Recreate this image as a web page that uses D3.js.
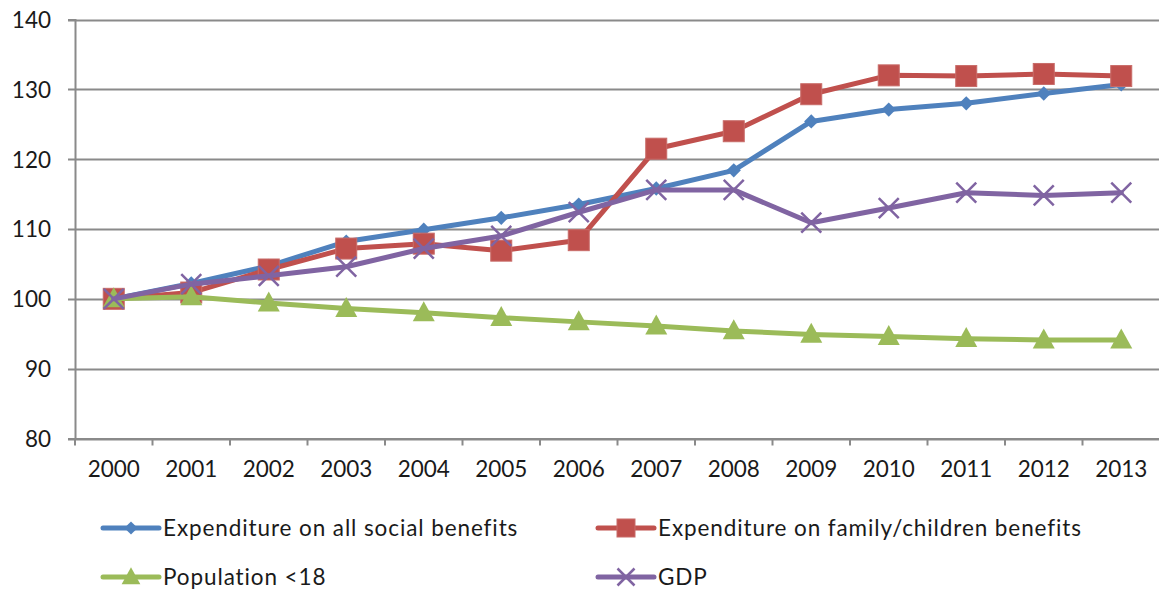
<!DOCTYPE html>
<html>
<head>
<meta charset="utf-8">
<script src="https://cdn.jsdelivr.net/npm/d3@7"></script>
<style>
  html, body { margin: 0; padding: 0; background: #fff; }
  svg { display: block; }
  text { font-family: Lato, "Open Sans", sans-serif; fill: #1a1a1a; }
</style>
</head>
<body>
<svg id="chart" width="1159" height="590"></svg>
<script>
// Index values, 2000 = 100
const years = ["2000","2001","2002","2003","2004","2005","2006","2007","2008","2009","2010","2011","2012","2013"];
const socialBenefits = [100, 102.2, 104.7, 108.2, 109.9, 111.6, 113.5, 115.8, 118.4, 125.4, 127.1, 128.0, 129.4, 130.7];
const familyBenefits = [100, 100.9, 104.2, 107.2, 107.9, 106.9, 108.4, 121.5, 124.0, 129.3, 132.0, 131.9, 132.2, 131.9];
const populationUnder18 = [100, 100.3, 99.4, 98.6, 98.0, 97.3, 96.7, 96.1, 95.4, 94.9, 94.6, 94.3, 94.1, 94.1];
const gdp = [100, 102.1, 103.3, 104.6, 107.2, 109.0, 112.4, 115.6, 115.6, 110.9, 113.0, 115.2, 114.8, 115.2];
const yTicks = [80, 90, 100, 110, 120, 130, 140];

const series = [
  { name: "Expenditure on all social benefits", values: socialBenefits, color: "#4F81BD", marker: "diamond" },
  { name: "Expenditure on family/children benefits", values: familyBenefits, color: "#C0504D", marker: "square" },
  { name: "Population <18", values: populationUnder18, color: "#9BBB59", marker: "triangle" },
  { name: "GDP", values: gdp, color: "#8064A2", marker: "cross" }
];

const svg = d3.select("#chart");
const plot = { left: 75, right: 1160, top: 19.5, bottom: 438.5 };

const x = d3.scaleBand().domain(years).range([plot.left, plot.right]);
const y = d3.scaleLinear().domain([80, 140]).range([plot.bottom, plot.top]);
const gridColor = "#8a8a8a";
const fontSize = "22.5px";

// Horizontal gridlines
svg.append("g")
  .selectAll("line")
  .data(yTicks)
  .join("line")
  .attr("x1", plot.left - 7).attr("x2", plot.right)
  .attr("y1", d => Math.round(y(d)) + 0.5).attr("y2", d => Math.round(y(d)) + 0.5)
  .attr("stroke", gridColor).attr("stroke-width", 2);

// Y axis
const yAxis = svg.append("g")
  .attr("transform", `translate(${plot.left},0)`)
  .call(d3.axisLeft(y).tickValues(yTicks).tickSize(7).tickPadding(17));
yAxis.select(".domain").attr("stroke", gridColor).attr("stroke-width", 2);
yAxis.selectAll(".tick line").attr("stroke", "none");
yAxis.selectAll(".tick text").style("font-size", fontSize).attr("dy", "0.35em");

// X axis
const xAxis = svg.append("g")
  .attr("transform", `translate(0,${plot.bottom})`)
  .call(d3.axisBottom(x).tickSize(0).tickPadding(23));
xAxis.select(".domain").attr("stroke", gridColor).attr("stroke-width", 2);
xAxis.selectAll(".tick text").style("font-size", fontSize);
// Category separators below the axis
svg.append("g")
  .selectAll("line")
  .data(d3.range(years.length + 1))
  .join("line")
  .attr("x1", i => plot.left + i * x.step()).attr("x2", i => plot.left + i * x.step())
  .attr("y1", plot.bottom).attr("y2", plot.bottom + 7)
  .attr("stroke", gridColor).attr("stroke-width", 2);

const cx = (d, i) => x(years[i]) + x.bandwidth() / 2;

function drawMarker(g, type, color, size) {
  const s = size;
  if (type === "diamond") {
    g.append("path").attr("d", `M0,${-s*0.55}L${s*0.55},0L0,${s*0.55}L${-s*0.55},0Z`).attr("fill", color);
  } else if (type === "square") {
    g.append("rect").attr("x", -s/2).attr("y", -s/2).attr("width", s).attr("height", s)
      .attr("fill", color).attr("stroke", "#c86b68").attr("stroke-width", 1);
  } else if (type === "triangle") {
    g.append("path").attr("d", `M0,${-s*0.58}L${s*0.55},${s*0.42}L${-s*0.55},${s*0.42}Z`).attr("fill", color);
  } else if (type === "cross") {
    g.append("path").attr("d", `M${-s/2},${-s/2}L${s/2},${s/2}M${s/2},${-s/2}L${-s/2},${s/2}`)
      .attr("stroke", color).attr("stroke-width", 2.5).attr("fill", "none");
  }
}
const markerSize = { diamond: 13, square: 21, triangle: 20, cross: 20 };
const legendMarkerSize = { diamond: 12, square: 18, triangle: 17, cross: 17 };

const line = d3.line().x(cx).y(d => y(d));

series.forEach(s => {
  svg.append("path")
    .datum(s.values)
    .attr("d", line)
    .attr("fill", "none")
    .attr("stroke", s.color)
    .attr("stroke-width", 5)
    .attr("stroke-linejoin", "round")
    .attr("stroke-linecap", "round");
  s.values.forEach((v, i) => {
    const g = svg.append("g").attr("transform", `translate(${cx(v, i)},${y(v)})`);
    drawMarker(g, s.marker, s.color, markerSize[s.marker]);
  });
});

// Legend
const legendPos = [
  { x: 103, y: 528 }, { x: 598, y: 528 },
  { x: 103, y: 577 }, { x: 598, y: 577 }
];
series.forEach((s, i) => {
  const p = legendPos[i];
  const g = svg.append("g").attr("transform", `translate(${p.x},${p.y})`);
  g.append("line").attr("x1", 0).attr("x2", 56).attr("y1", 0).attr("y2", 0)
    .attr("stroke", s.color).attr("stroke-width", 5).attr("stroke-linecap", "round");
  const m = g.append("g").attr("transform", "translate(28,0)");
  drawMarker(m, s.marker, s.color, legendMarkerSize[s.marker]);
  g.append("text").attr("x", 60).attr("y", 0).attr("dy", "0.35em")
    .style("font-size", fontSize).style("letter-spacing", "0.9px").text(s.name);
});
</script>
</body>
</html>
